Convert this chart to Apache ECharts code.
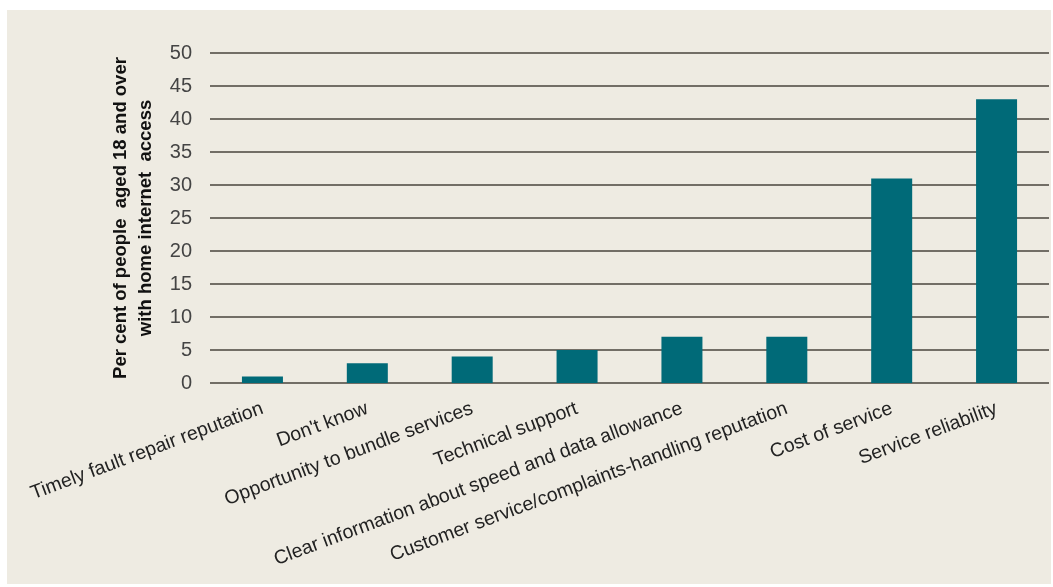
<!DOCTYPE html>
<html>
<head>
<meta charset="utf-8">
<script src="https://cdn.jsdelivr.net/npm/echarts@6/dist/echarts.min.js"></script>
<style>
html,body{margin:0;padding:0;background:#ffffff;}
#chart{width:1053px;height:587px;}
</style>
</head>
<body>
<div id="chart"></div>
<script>
const categories = [
  "Timely fault repair reputation",
  "Don't know",
  "Opportunity to bundle services",
  "Technical support",
  "Clear information about speed and data allowance",
  "Customer service/complaints-handling reputation",
  "Cost of service",
  "Service reliability"
];
const values = [1, 3, 4, 5, 7, 7, 31, 43];
const yAxisTitle = "Per cent of people  aged 18 and over\nwith home internet  access";

const chart = echarts.init(document.getElementById('chart'), null, {renderer: 'canvas'});
chart.setOption({
  animation: false,
  backgroundColor: '#ffffff',
  graphic: [{
    type: 'rect',
    z: -10,
    shape: {x: 7, y: 10, width: 1044, height: 574},
    style: {fill: '#eeebe2'}
  }],
  grid: {left: 210, right: 4, top: 53, bottom: 204, containLabel: false},
  xAxis: {
    type: 'category',
    data: categories,
    axisLine: {show: false},
    axisTick: {show: false},
    axisLabel: {
      rotate: 20.5,
      interval: 0,
      margin: 25,
      fontFamily: 'Liberation Sans, Arial, sans-serif',
      fontSize: 19.5,
      color: '#222222'
    }
  },
  yAxis: {
    type: 'value',
    min: 0,
    max: 50,
    interval: 5,
    name: yAxisTitle,
    nameLocation: 'middle',
    nameGap: 45,
    nameTextStyle: {
      fontFamily: 'Liberation Sans, Arial, sans-serif',
      fontSize: 18.5,
      fontWeight: 'bold',
      color: '#111111',
      lineHeight: 25
    },
    axisLine: {show: false},
    axisTick: {show: false},
    axisLabel: {
      margin: 18,
      fontFamily: 'Liberation Sans, Arial, sans-serif',
      fontSize: 20,
      color: '#444444'
    },
    splitLine: {lineStyle: {color: '#48443d', width: 1.5}}
  },
  series: [{
    type: 'bar',
    data: values,
    barWidth: 41,
    itemStyle: {color: '#006a78'}
  }]
});
</script>
</body>
</html>
